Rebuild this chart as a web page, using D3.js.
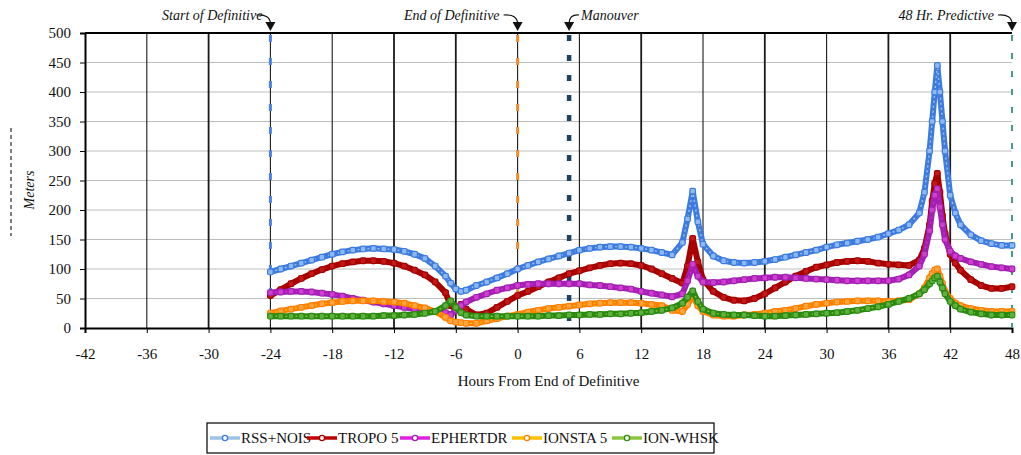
<!DOCTYPE html>
<html><head><meta charset="utf-8">
<script src="https://cdn.jsdelivr.net/npm/d3@7"></script>
</head>
<body style="margin:0;background:#fff"><svg id="chart" width="1021" height="455"></svg>
<script>
// ---- data ----
const xTicks = [-42,-36,-30,-24,-18,-12,-6,0,6,12,18,24,30,36,42,48];
const yTicks = [0,50,100,150,200,250,300,350,400,450,500];
const seriesNames = ["RSS+NOIS","TROPO 5","EPHERTDR","IONSTA 5","ION-WHSK"];
const hours = [-24,-23,-22,-21,-20,-19,-18,-17,-16,-15,-14,-13,-12,-11,-10,-9,-8,-7,
  -6.5,-6,-5.5,-5,
  -4,-3,-2,-1,0,1,2,3,4,5,6,7,8,9,10,11,12,13,14,15,16,
  16.5,17,17.5,
  18,19,20,21,22,23,24,25,26,27,28,29,30,31,32,33,34,35,36,37,38,39,
  39.5,40,40.25,40.5,40.75,41,41.25,41.5,42,42.5,
  43,44,45,46,47,48];
const rssNois = [95,100,105,110,115,120,125,129,132,134,135,134,133,130,125,118,105,88,
  76,66,62,64,
  72,78,85,92,100,106,112,117,122,127,132,135,137,138,138,137,135,132,128,124,145,
  185,232,180,
  142,122,114,111,110,111,113,116,120,124,128,132,137,141,144,147,150,154,160,166,175,195,
  230,300,350,400,445,400,350,300,225,195,
  175,158,148,143,140,140];
const tropo5 = [55,65,75,84,92,99,105,109,112,114,114,113,110,105,98,90,78,60,
  38,32,40,32,
  22,25,35,45,55,62,70,78,85,92,97,102,106,109,110,109,106,100,92,84,76,
  105,152,112,
  82,62,52,47,46,50,58,68,78,88,96,103,107,111,113,114,113,110,108,107,106,115,
  135,175,215,245,262,230,190,160,125,110,
  98,82,72,67,67,70];
const ephertdr = [60,61,62,62,61,59,57,54,50,47,44,41,38,35,32,30,28,26,
  22,30,38,44,
  52,58,64,68,72,74,75,75,75,75,75,73,72,70,68,66,62,59,56,53,58,
  80,108,88,
  78,77,78,80,82,84,85,86,86,85,84,83,82,81,80,80,80,80,80,83,90,105,
  125,165,200,225,236,205,175,150,130,122,
  118,112,108,104,102,100];
const ionsta5 = [25,29,32,35,38,41,43,45,46,46,46,45,44,42,38,34,28,18,
  12,10,9,8,
  8,12,16,20,23,27,30,33,35,37,39,41,42,43,43,43,42,40,38,30,28,
  40,55,38,
  28,22,20,20,22,23,25,28,30,33,37,40,42,44,45,46,46,46,45,46,48,58,
  68,85,92,98,100,88,75,62,50,42,
  38,33,30,28,28,28];
const ionWhsk = [20,20,20,20,20,20,20,20,20,20,20,21,21,22,23,25,28,38,
  46,35,26,22,
  20,20,20,20,20,20,20,21,21,22,22,23,23,24,24,25,26,28,30,34,42,
  52,63,45,
  32,25,23,22,22,21,20,20,21,22,23,24,25,26,28,30,33,36,40,45,50,58,
  65,75,80,85,88,78,68,58,45,38,
  32,27,24,22,22,22];
const markerEvents = ["Start of Definitive","End of Definitive","Manouver","48 Hr. Predictive"];
const markerHours = [-24,0,5,48];

// ---- styles ----
const FONT = '"Liberation Serif", "Times New Roman", serif';
const lineColors = ["#9DC3E6","#C00000","#E020E0","#FFC000","#8CC63F"];
const markColors = ["#3D7BE0","#A50000","#A020B0","#FF8000","#2A8A10"];
const markFills  = ["#8DB8F0","#C41818","#D040D0","#FFA640","#5FB040"];
const allValues = [rssNois,tropo5,ephertdr,ionsta5,ionWhsk];

const svg = d3.select("#chart");
const L = 85, R = 1012, T = 33, B = 328;
const x = d3.scaleLinear().domain([-42,48]).range([L,R]);
const y = d3.scaleLinear().domain([0,500]).range([B,T]);

// grid
svg.append("g").selectAll("line").data(yTicks.filter(d=>d>0 && d<500)).join("line")
  .attr("x1",L).attr("x2",R).attr("y1",d=>y(d)).attr("y2",d=>y(d))
  .attr("stroke","#BDBDBD").attr("stroke-width",1.2);
svg.append("g").selectAll("line").data(xTicks.filter(d=>d>-42 && d<48)).join("line")
  .attr("x1",d=>x(d)).attr("x2",d=>x(d)).attr("y1",T).attr("y2",B)
  .attr("stroke","#1a1a1a").attr("stroke-width",d=>([-30,-12,-6,12,24,36,42].includes(d)?1.8:1.1));
svg.append("line").attr("x1",L).attr("x2",R).attr("y1",T).attr("y2",T)
  .attr("stroke","#000").attr("stroke-width",2);

// axes
const xAxis = d3.axisBottom(x).tickValues(xTicks).tickSize(5).tickFormat(d=>String(d));
const gx = svg.append("g").attr("transform",`translate(0,${B})`).call(xAxis);
gx.select(".domain").attr("stroke","#000").attr("stroke-width",2);
gx.selectAll(".tick line").attr("stroke","#000");
gx.selectAll("text").attr("font-size",15).attr("dy","1.5em").attr("fill","#111");
const yAxis = d3.axisLeft(y).tickValues(yTicks).tickSize(5).tickFormat(d=>String(d));
const gy = svg.append("g").attr("transform",`translate(${L},0)`).call(yAxis);
gy.select(".domain").attr("stroke","#000").attr("stroke-width",2);
gy.selectAll(".tick line").attr("stroke","#000");
gy.selectAll("text").attr("font-size",15).attr("x",-14).attr("fill","#111");

// event vertical lines
const evStyles = [
  {c:"#4A80E8",w:3,d:"7,16"},
  {c:"#F08A30",w:3,d:"7,16"},
  {c:"#1F3F66",w:4.5,d:"6,14"},
  {c:"#4A9A88",w:2,d:"6,12"}];
svg.append("g").selectAll("line").data(markerHours).join("line")
  .attr("x1",d=>x(d)).attr("x2",d=>x(d)).attr("y1",T+2).attr("y2",B)
  .attr("stroke",(d,i)=>evStyles[i].c).attr("stroke-width",(d,i)=>evStyles[i].w)
  .attr("stroke-dasharray",(d,i)=>evStyles[i].d);

// series
const line = d3.line().x((d,i)=>x(hours[i])).y(d=>y(d));
allValues.forEach((vals,si)=>{
  const g = svg.append("g");
  g.append("path").datum(vals).attr("d",line).attr("fill","none")
    .attr("stroke",markColors[si]).attr("stroke-width",6).attr("stroke-linejoin","round");
  g.append("path").datum(vals).attr("d",line).attr("fill","none")
    .attr("stroke",lineColors[si]).attr("stroke-width",1.4).attr("stroke-dasharray","2,3");
  g.selectAll("rect").data(vals).join("rect")
    .attr("x",(d,i)=>x(hours[i])-2.8).attr("y",d=>y(d)-2.8).attr("width",5.6).attr("height",5.6)
    .attr("rx",1.5)
    .attr("fill",markFills[si]).attr("stroke",markColors[si]).attr("stroke-width",1.2);
});

// event annotations
const ann = [
  {tx:x(-24)-8, anchor:"end", side:"left"},
  {tx:x(0)-18, anchor:"end", side:"left"},
  {tx:x(5)+12, anchor:"start", side:"right"},
  {tx:x(48)-18, anchor:"end", side:"left"}];
markerHours.forEach((h,i)=>{
  const a = ann[i], px = x(h);
  svg.append("text").attr("x",a.tx).attr("y",20).attr("text-anchor",a.anchor)
    .attr("font-size",14).attr("font-style","italic").attr("fill","#111").text(markerEvents[i]);
  const p = a.side==="left" ? `M${px-14},15 Q${px},14 ${px},24` : `M${px+10},15 Q${px},14 ${px},24`;
  svg.append("path").attr("d",p).attr("fill","none").attr("stroke","#111").attr("stroke-width",1.2);
  svg.append("path").attr("d",`M${px-5},22 L${px+5},22 L${px},31 Z`).attr("fill","#111");
});

// y axis title
svg.append("text").attr("transform","translate(34,190) rotate(-90)").attr("text-anchor","middle")
  .attr("font-size",14).attr("font-style","italic").attr("fill","#111").text("Meters");
svg.append("line").attr("x1",11).attr("x2",11).attr("y1",128).attr("y2",236)
  .attr("stroke","#555").attr("stroke-width",1.5).attr("stroke-dasharray","4,3");

// x axis title
svg.append("text").attr("x",(L+R)/2).attr("y",386).attr("text-anchor","middle")
  .attr("font-size",15).attr("fill","#111").text("Hours From End of Definitive");

// legend
const lg = svg.append("g");
lg.append("rect").attr("x",207).attr("y",423).attr("width",507).attr("height",30)
  .attr("fill","#fff").attr("stroke","#000").attr("stroke-width",1.2);
const legX = [210,307,400,512,612];
seriesNames.forEach((n,i)=>{
  const lx = legX[i], ly = 438;
  lg.append("line").attr("x1",lx).attr("x2",lx+30).attr("y1",ly).attr("y2",ly)
    .attr("stroke",lineColors[i]).attr("stroke-width",3.5);
  lg.append("circle").attr("cx",lx+15).attr("cy",ly).attr("r",2.6)
    .attr("fill","#fff").attr("stroke",markColors[i]).attr("stroke-width",1.3);
  lg.append("text").attr("x",lx+31).attr("y",ly+5).attr("font-size",15)
    .attr("fill","#111").text(n);
});

// apply serif font to every text as inline style
svg.selectAll("text").style("font-family", FONT);
</script></body></html>
